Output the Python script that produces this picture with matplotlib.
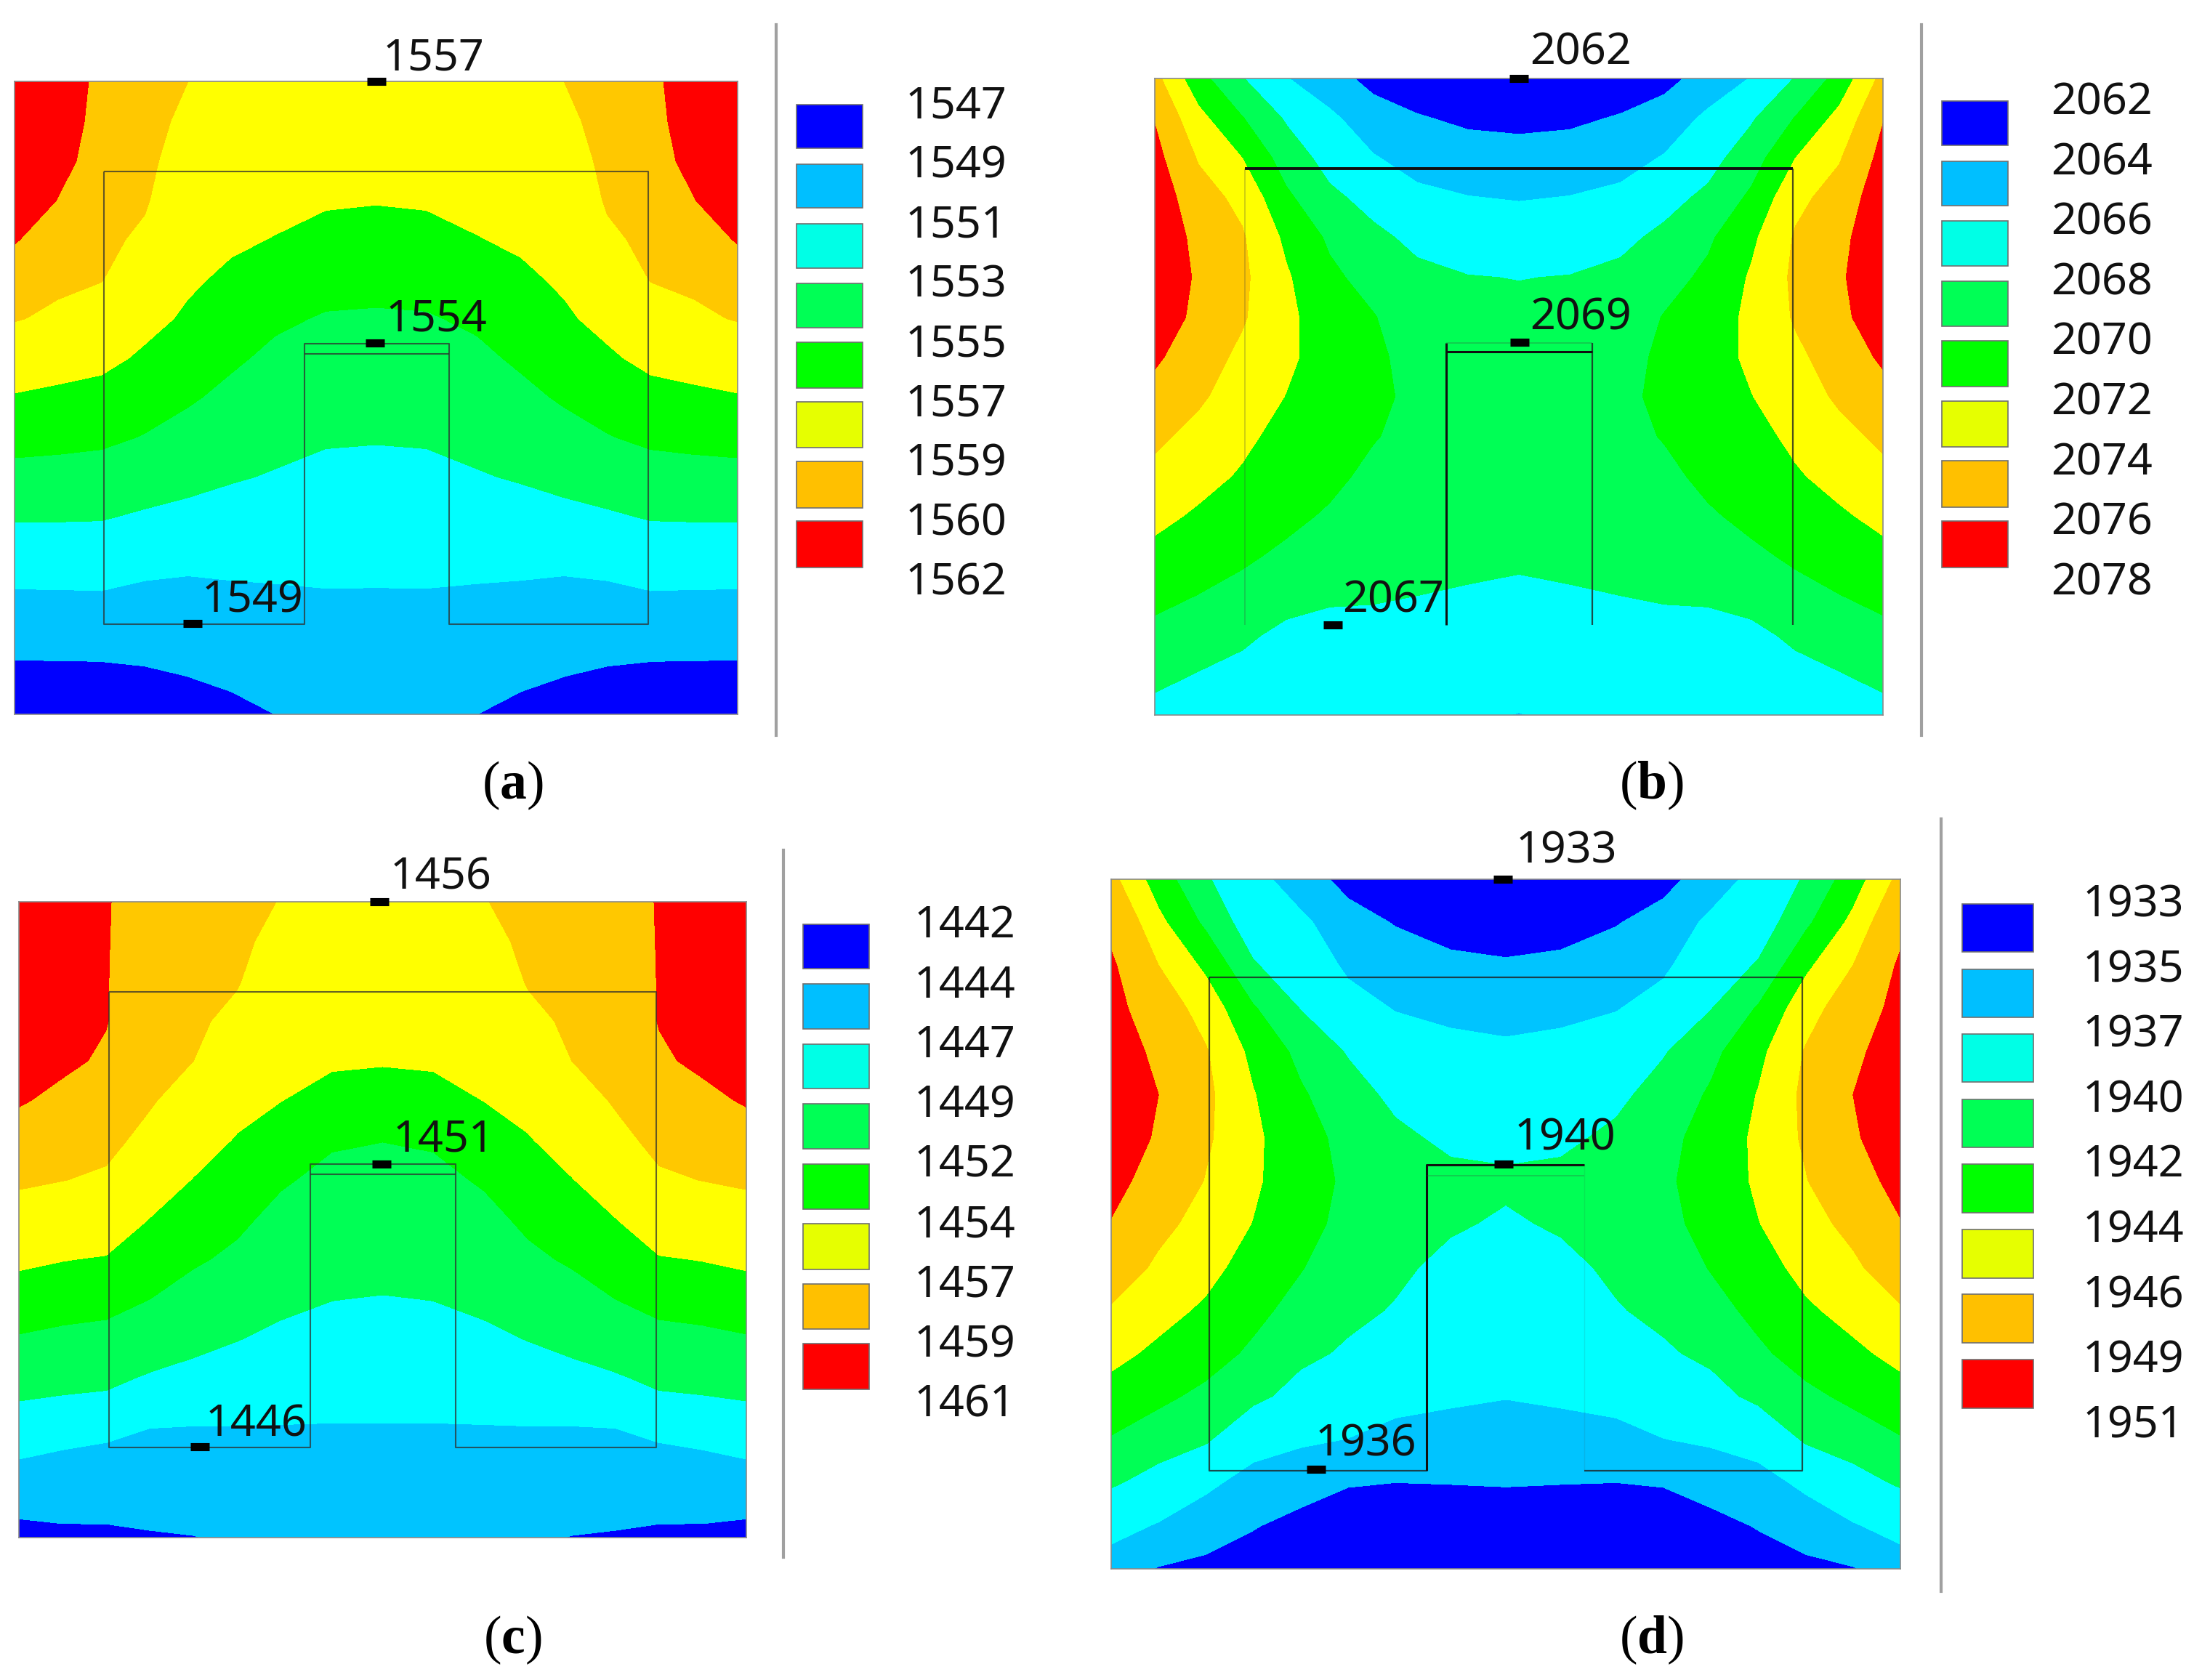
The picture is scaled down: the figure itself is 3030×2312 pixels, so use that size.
import matplotlib
matplotlib.use("Agg")
import matplotlib.pyplot as plt
import numpy as np
from matplotlib.patches import Rectangle

plt.rcParams["mathtext.fontset"] = "custom"
plt.rcParams["mathtext.rm"] = "Liberation Serif"
plt.rcParams["mathtext.bf"] = "Liberation Serif:bold"

W, H = 3030, 2312

colors = ["#0000ff", "#00c4ff", "#00ffff", "#00ff55", "#00ff00", "#ffff00", "#ffc800", "#ff0000"]
swatch_colors = ["#0000ff", "#00bfff", "#00ffe6", "#00ff55", "#00ff00", "#e6ff00", "#ffc000", "#ff0000"]

labels_a = [1547, 1549, 1551, 1553, 1555, 1557, 1559, 1560, 1562]
labels_b = [2062, 2064, 2066, 2068, 2070, 2072, 2074, 2076, 2078]
labels_c = [1442, 1444, 1447, 1449, 1452, 1454, 1457, 1459, 1461]
labels_d = [1933, 1935, 1937, 1940, 1942, 1944, 1946, 1949, 1951]

probes_a = [1557, 1554, 1549]
probes_b = [2062, 2069, 2067]
probes_c = [1456, 1451, 1446]
probes_d = [1933, 1940, 1936]

# left half of each panel, mirrored about the centre later
# one list per column, value = position in the legend scale (0 lowest label, 8 highest)
cols = [0, .06, .12, .18, .24, .30, .36, .43, .5]
rows = [0, .0625, .125, .1875, .25, .3125, .375, .4375, .5, .5625, .625, .6875, .75, .8125, .875, .9375, 1]

band_a = [
    [7.9, 7.7, 7.5, 7.3, 7.03, 6.57, 6.08, 5.5, 4.93, 4.32, 3.7, 3.08, 2.5, 1.9, 1.35, .8, .3],
    [7.3, 7.22, 7.13, 6.98, 6.58, 6.25, 5.88, 5.35, 4.82, 4.25, 3.67, 3.08, 2.5, 1.91, 1.36, .8, .25],
    [6.75, 6.72, 6.65, 6.5, 6.25, 6.05, 5.7, 5.22, 4.7, 4.2, 3.55, 3.06, 2.5, 1.93, 1.4, .8, .2],
    [6.42, 6.36, 6.27, 6.12, 5.9, 5.57, 5.24, 4.87, 4.42, 3.95, 3.42, 2.9, 2.33, 1.8, 1.36, .9, .3],
    [6.0, 5.88, 5.72, 5.55, 5.32, 5.12, 4.88, 4.5, 4.1, 3.68, 3.25, 2.77, 2.25, 1.75, 1.4, 1.02, .6],
    [5.9, 5.7, 5.55, 5.35, 5.12, 4.85, 4.5, 4.13, 3.78, 3.42, 3.07, 2.66, 2.24, 1.85, 1.5, 1.15, .8],
    [5.85, 5.63, 5.45, 5.22, 4.97, 4.55, 4.14, 3.82, 3.53, 3.24, 2.94, 2.59, 2.23, 1.9, 1.6, 1.3, 1.0],
    [5.82, 5.6, 5.42, 5.1, 4.72, 4.3, 3.93, 3.65, 3.36, 3.08, 2.8, 2.5, 2.22, 1.95, 1.7, 1.45, 1.2],
    [5.8, 5.6, 5.38, 5.05, 4.65, 4.25, 3.9, 3.62, 3.33, 3.05, 2.78, 2.5, 2.2, 1.95, 1.7, 1.45, 1.25],
]
band_b = [
    [6.3, 6.95, 7.3, 7.6, 7.8, 7.8, 7.6, 7.15, 6.67, 6.2, 5.73, 5.24, 4.75, 4.25, 3.74, 3.23, 2.7],
    [4.35, 5.3, 5.92, 6.4, 6.7, 6.85, 6.75, 6.45, 6.15, 5.7, 5.3, 4.87, 4.45, 3.98, 3.45, 2.95, 2.6],
    [3.05, 4.05, 5.0, 5.75, 6.1, 6.2, 6.1, 5.8, 5.5, 5.2, 4.9, 4.45, 4.13, 3.75, 3.15, 2.75, 2.4],
    [2.05, 2.9, 3.55, 4.2, 4.82, 5.12, 5.25, 5.2, 4.98, 4.7, 4.45, 4.2, 3.85, 3.3, 2.8, 2.5, 2.2],
    [1.4, 2.2, 2.65, 3.2, 3.85, 4.2, 4.42, 4.55, 4.55, 4.4, 4.2, 3.9, 3.5, 3.1, 2.75, 2.45, 2.2],
    [.7, 1.45, 2.07, 2.7, 3.2, 3.65, 4.05, 4.17, 4.2, 4.05, 3.8, 3.55, 3.32, 3.07, 2.75, 2.45, 2.2],
    [.4, 1.08, 1.65, 2.22, 2.8, 3.2, 3.45, 3.7, 3.8, 3.75, 3.6, 3.45, 3.2, 3.0, 2.75, 2.45, 2.2],
    [.2, .82, 1.45, 2.03, 2.55, 3.03, 3.25, 3.45, 3.55, 3.55, 3.45, 3.3, 3.1, 2.96, 2.7, 2.4, 2.1],
    [.1, .75, 1.37, 1.95, 2.5, 2.98, 3.2, 3.4, 3.5, 3.5, 3.4, 3.25, 3.06, 2.93, 2.6, 2.3, 1.98],
]
band_c = [
    [7.9, 7.75, 7.6, 7.45, 7.3, 7.07, 6.65, 6.17, 5.65, 5.12, 4.55, 3.95, 3.3, 2.65, 2.02, 1.3, .6],
    [7.8, 7.65, 7.5, 7.35, 7.14, 6.82, 6.42, 6.02, 5.53, 5.02, 4.43, 3.85, 3.2, 2.57, 1.9, 1.37, .7],
    [7.03, 7.03, 7.03, 7.03, 6.9, 6.6, 6.27, 5.9, 5.42, 4.93, 4.35, 3.78, 3.15, 2.47, 1.8, 1.32, .75],
    [6.77, 6.68, 6.55, 6.42, 6.28, 6.1, 5.8, 5.38, 4.97, 4.5, 4.0, 3.46, 2.87, 2.15, 1.7, 1.3, .9],
    [6.5, 6.38, 6.25, 6.12, 6.0, 5.67, 5.33, 4.96, 4.55, 4.14, 3.7, 3.2, 2.67, 2.1, 1.72, 1.36, .97],
    [6.25, 6.15, 6.05, 5.88, 5.58, 5.25, 4.92, 4.55, 4.22, 3.85, 3.43, 3.02, 2.55, 2.09, 1.75, 1.44, 1.1],
    [5.98, 5.85, 5.67, 5.47, 5.26, 5.01, 4.57, 4.13, 3.78, 3.47, 3.15, 2.8, 2.43, 2.07, 1.75, 1.45, 1.15],
    [5.9, 5.72, 5.52, 5.3, 5.08, 4.68, 4.13, 3.8, 3.54, 3.27, 3.01, 2.7, 2.37, 2.05, 1.75, 1.45, 1.18],
    [5.88, 5.7, 5.5, 5.28, 5.05, 4.57, 4.02, 3.75, 3.5, 3.22, 2.96, 2.66, 2.35, 2.05, 1.75, 1.45, 1.2],
]
band_d = [
    [6.2, 6.75, 7.2, 7.5, 7.75, 7.85, 7.75, 7.45, 6.95, 6.45, 5.88, 5.27, 4.63, 3.93, 3.15, 2.3, 1.4],
    [4.5, 5.25, 6.0, 6.4, 6.8, 7.0, 6.9, 6.6, 6.2, 5.8, 5.32, 4.8, 4.18, 3.55, 2.7, 1.9, .95],
    [3.15, 3.8, 4.8, 5.6, 6.05, 6.15, 6.1, 5.95, 5.6, 5.3, 4.85, 4.35, 3.8, 3.15, 2.15, 1.4, .8],
    [2.25, 2.6, 3.1, 4.1, 4.75, 5.05, 5.2, 5.15, 4.97, 4.6, 4.23, 3.85, 3.28, 2.3, 1.6, 1.05, .6],
    [1.45, 2.15, 2.55, 2.98, 3.75, 4.12, 4.33, 4.4, 4.3, 4.05, 3.7, 3.25, 2.72, 2.1, 1.35, .75, .4],
    [.72, 1.35, 1.8, 2.3, 2.95, 3.4, 3.75, 3.85, 3.75, 3.5, 3.25, 2.9, 2.45, 1.98, 1.05, .6, .35],
    [.3, .95, 1.45, 1.95, 2.4, 2.85, 3.2, 3.35, 3.35, 3.2, 2.95, 2.55, 2.2, 1.7, 1.0, .55, .3],
    [.1, .65, 1.2, 1.75, 2.2, 2.55, 2.87, 3.24, 3.12, 2.82, 2.6, 2.35, 2.1, 1.6, 1.02, .55, .3],
    [.05, .55, 1.1, 1.65, 2.12, 2.45, 2.8, 3.17, 2.91, 2.6, 2.4, 2.25, 2.02, 1.6, 1.05, .55, .3],
]


def px_axes(fig, x0, y0, x1, y1):
    return fig.add_axes([x0 / W, 1 - y1 / H, (x1 - x0) / W, (y1 - y0) / H])


def draw_field(ax, band, labels):
    band = np.array(band).T
    full = np.hstack([band, band[:, -2::-1]])
    c = np.array(cols)
    u = np.concatenate([c, 1 - c[-2::-1]])
    temps = np.interp(full, np.arange(9), labels)
    ax.contourf(u, rows, temps, levels=labels, colors=colors)
    ax.set_xlim(0, 1)
    ax.set_ylim(1, 0)
    ax.set_xticks([])
    ax.set_yticks([])
    for s in ax.spines.values():
        s.set_color("#8a8a8a")
        s.set_linewidth(1.2)


fig = plt.figure(figsize=(W / 100, H / 100), dpi=100, facecolor="white")

panels = [
    dict(box=(20, 112, 1015, 983), band=band_a, labels=labels_a, probes=probes_a, tag="a",
         probe_uv=[(.5, 0), (.498, .413), (.246, .857)],
         probe_txt=[(527, 81), (531, 440), (278, 827)],
         sep=(1068, 34, 1012), sw=(1096, 1187, 144, 204, 717, 781), lab=(1246, 147, 803), cap=(705, 1081),
         notch=(.401, .601, .414, .430)),
    dict(box=(1589, 108, 2591, 984), band=band_b, labels=labels_b, probes=probes_b, tag="b",
         probe_uv=[(.5, 0), (.501, .414), (.245, .858)],
         probe_txt=[(2105, 73), (2105, 438), (1847, 827)],
         sep=(2644, 34, 1012), sw=(2672, 2763, 139, 200, 717, 781), lab=(2822, 142, 803), cap=(2272, 1081),
         notch=(.400, .601, .415, .429)),
    dict(box=(26, 1241, 1027, 2116), band=band_c, labels=labels_c, probes=probes_c, tag="c",
         probe_uv=[(.496, 0), (.499, .4125), (.249, .857)],
         probe_txt=[(537, 1208), (541, 1569), (283, 1961)],
         sep=(1078, 1170, 2143), sw=(1105, 1196, 1272, 1333, 1849, 1912), lab=(1258, 1275, 1934), cap=(705, 2257),
         notch=(.401, .600, .413, .429)),
    dict(box=(1529, 1210, 2615, 2159), band=band_d, labels=labels_d, probes=probes_d, tag="d",
         probe_uv=[(.496, 0), (.497, .413), (.26, .856)],
         probe_txt=[(2086, 1172), (2084, 1567), (1810, 1988)],
         sep=(2671, 1127, 2190), sw=(2700, 2798, 1244, 1310, 1871, 1938), lab=(2866, 1246, 1963), cap=(2272, 2257),
         notch=(.400, .599, .414, .430)),
]

# overlay in pixel coordinates for legends, captions and separators
over = fig.add_axes([0, 0, 1, 1], zorder=5)
over.set_xlim(0, W)
over.set_ylim(H, 0)
over.axis("off")

thin = dict(color="#303030", lw=1.5, alpha=.75)
dark = dict(color="#101010", lw=2.8)
mid = dict(color="#202020", lw=1.6, alpha=.8)
faint = dict(color="#404040", lw=1.2, alpha=.3)

for p in panels:
    ax = px_axes(fig, *p["box"])
    draw_field(ax, p["band"], p["labels"])
    nl, nr, nt, ni = p["notch"]
    ol, or_, ot, ob = .124, .876, .142, .858
    if p["tag"] in "ac":
        segs = [
            ([ol, or_, or_, nr, nr, nl, nl, ol, ol], [ot, ot, ob, ob, nt, nt, ob, ob, ot], thin),
            ([nl, nr], [ni, ni], thin),
        ]
    elif p["tag"] == "b":
        segs = [
            ([ol, or_], [ot, ot], dark),
            ([ol, ol], [ot, ob], faint),
            ([or_, or_], [ot, ob], mid),
            ([nl, nl], [nt, ob], dict(color="#101010", lw=2.2)),
            ([nr, nr], [nt, ob], mid),
            ([nl, nr], [ni, ni], dict(color="#101010", lw=2.2)),
            ([nl, nr], [nt, nt], faint),
        ]
    else:
        segs = [
            ([ol, or_, or_, nr], [ot, ot, ob, ob], mid),
            ([nl, ol, ol], [ob, ob, ot], mid),
            ([nl, nl, nr], [ob, nt, nt], dict(color="#101010", lw=2.2)),
            ([nl, nr], [ni, ni], faint),
            ([nr, nr], [nt, ob], dict(color="#404040", lw=1, alpha=.12)),
        ]
    for xs, ys, st in segs:
        ax.plot(xs, ys, solid_capstyle="butt", **st)

    # probes
    for (pu, pv), val, (tx, ty) in zip(p["probe_uv"], p["probes"], p["probe_txt"]):
        ax.plot([pu], [pv], marker="_", ms=19, mew=8, color="black", clip_on=False, zorder=6)
        over.text(tx, ty, str(val), fontsize=44, family="Noto Sans", ha="left", va="center", color="#111111")

    # legend
    sx0, sx1, y00, y01, y10, y11 = p["sw"]
    for i, col in enumerate(swatch_colors):
        f = i / 7
        top = y00 + (y10 - y00) * f
        bot = y01 + (y11 - y01) * f
        over.add_patch(Rectangle((sx0, top), sx1 - sx0, bot - top, facecolor=col, edgecolor="#707070", lw=1.2))
    lx, ly0, ly1 = p["lab"]
    for i, val in enumerate(p["labels"]):
        over.text(lx, ly0 + (ly1 - ly0) * i / 8, str(val), fontsize=44, family="Noto Sans",
                  ha="left", va="center", color="#111111")

    sx, sy0, sy1 = p["sep"]
    over.plot([sx, sx], [sy0, sy1], color="#a0a0a0", lw=3)

    over.text(p["cap"][0], p["cap"][1], "($\\mathbf{%s}$)" % p["tag"], fontsize=53,
              family="Liberation Serif", ha="center", va="center", color="black")

fig.savefig("out.png", dpi=100)
